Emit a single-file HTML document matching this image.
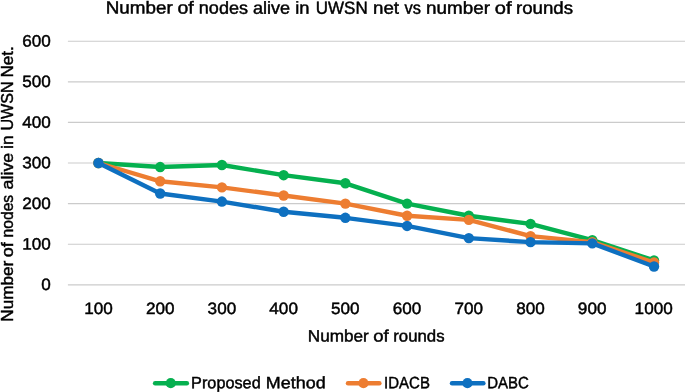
<!DOCTYPE html>
<html lang="en"><head><meta charset="utf-8"><title>Number of nodes alive in UWSN net vs number of rounds</title>
<style>
html,body{margin:0;padding:0;background:#fff;}
body{width:685px;height:392px;overflow:hidden;}
svg{display:block;}
text{font-family:"Liberation Sans", sans-serif;fill:#000;stroke:#000;stroke-width:0.45px;font-kerning:none;}
</style></head><body>
<svg width="685" height="392" viewBox="0 0 685 392">
<rect width="685" height="392" fill="#fff"/>
<line x1="67.9" x2="685.0" y1="284.80" y2="284.80" stroke="#cbcbcb" stroke-width="1.15"/>
<line x1="67.9" x2="685.0" y1="244.20" y2="244.20" stroke="#cbcbcb" stroke-width="1.15"/>
<line x1="67.9" x2="685.0" y1="203.60" y2="203.60" stroke="#cbcbcb" stroke-width="1.15"/>
<line x1="67.9" x2="685.0" y1="163.00" y2="163.00" stroke="#cbcbcb" stroke-width="1.15"/>
<line x1="67.9" x2="685.0" y1="122.40" y2="122.40" stroke="#cbcbcb" stroke-width="1.15"/>
<line x1="67.9" x2="685.0" y1="81.80" y2="81.80" stroke="#cbcbcb" stroke-width="1.15"/>
<line x1="67.9" x2="685.0" y1="41.20" y2="41.20" stroke="#cbcbcb" stroke-width="1.15"/>
<polyline points="98.45,163.00 160.18,167.06 221.91,165.03 283.64,175.18 345.37,183.30 407.10,203.60 468.83,215.78 530.56,223.90 592.29,240.14 654.02,260.44" fill="none" stroke="#05b04f" stroke-width="4.4" stroke-linejoin="round" stroke-linecap="round"/>
<circle cx="98.45" cy="163.00" r="5.2" fill="#05b04f"/>
<circle cx="160.18" cy="167.06" r="5.2" fill="#05b04f"/>
<circle cx="221.91" cy="165.03" r="5.2" fill="#05b04f"/>
<circle cx="283.64" cy="175.18" r="5.2" fill="#05b04f"/>
<circle cx="345.37" cy="183.30" r="5.2" fill="#05b04f"/>
<circle cx="407.10" cy="203.60" r="5.2" fill="#05b04f"/>
<circle cx="468.83" cy="215.78" r="5.2" fill="#05b04f"/>
<circle cx="530.56" cy="223.90" r="5.2" fill="#05b04f"/>
<circle cx="592.29" cy="240.14" r="5.2" fill="#05b04f"/>
<circle cx="654.02" cy="260.44" r="5.2" fill="#05b04f"/>
<polyline points="98.45,163.00 160.18,181.27 221.91,187.36 283.64,195.48 345.37,203.60 407.10,215.78 468.83,219.84 530.56,236.08 592.29,242.17 654.02,262.47" fill="none" stroke="#ed7d31" stroke-width="4.4" stroke-linejoin="round" stroke-linecap="round"/>
<circle cx="98.45" cy="163.00" r="5.2" fill="#ed7d31"/>
<circle cx="160.18" cy="181.27" r="5.2" fill="#ed7d31"/>
<circle cx="221.91" cy="187.36" r="5.2" fill="#ed7d31"/>
<circle cx="283.64" cy="195.48" r="5.2" fill="#ed7d31"/>
<circle cx="345.37" cy="203.60" r="5.2" fill="#ed7d31"/>
<circle cx="407.10" cy="215.78" r="5.2" fill="#ed7d31"/>
<circle cx="468.83" cy="219.84" r="5.2" fill="#ed7d31"/>
<circle cx="530.56" cy="236.08" r="5.2" fill="#ed7d31"/>
<circle cx="592.29" cy="242.17" r="5.2" fill="#ed7d31"/>
<circle cx="654.02" cy="262.47" r="5.2" fill="#ed7d31"/>
<polyline points="98.45,163.00 160.18,193.45 221.91,201.57 283.64,211.72 345.37,217.81 407.10,225.93 468.83,238.11 530.56,242.17 592.29,243.39 654.02,266.53" fill="none" stroke="#0e70c0" stroke-width="4.4" stroke-linejoin="round" stroke-linecap="round"/>
<circle cx="98.45" cy="163.00" r="5.2" fill="#0e70c0"/>
<circle cx="160.18" cy="193.45" r="5.2" fill="#0e70c0"/>
<circle cx="221.91" cy="201.57" r="5.2" fill="#0e70c0"/>
<circle cx="283.64" cy="211.72" r="5.2" fill="#0e70c0"/>
<circle cx="345.37" cy="217.81" r="5.2" fill="#0e70c0"/>
<circle cx="407.10" cy="225.93" r="5.2" fill="#0e70c0"/>
<circle cx="468.83" cy="238.11" r="5.2" fill="#0e70c0"/>
<circle cx="530.56" cy="242.17" r="5.2" fill="#0e70c0"/>
<circle cx="592.29" cy="243.39" r="5.2" fill="#0e70c0"/>
<circle cx="654.02" cy="266.53" r="5.2" fill="#0e70c0"/>
<text y="13.7" font-size="17.4" transform="matrix(1 0.0006 0 1 0 -0.2039)"><tspan x="105.68" textLength="67.01" lengthAdjust="spacingAndGlyphs">Number</tspan> <tspan x="177.51" textLength="16.24" lengthAdjust="spacingAndGlyphs">of</tspan> <tspan x="198.83" textLength="49.20" lengthAdjust="spacingAndGlyphs">nodes</tspan> <tspan x="252.96" textLength="37.22" lengthAdjust="spacingAndGlyphs">alive</tspan> <tspan x="295.20" textLength="14.27" lengthAdjust="spacingAndGlyphs">in</tspan> <tspan x="315.82" textLength="51.84" lengthAdjust="spacingAndGlyphs">UWSN</tspan> <tspan x="372.98" textLength="26.03" lengthAdjust="spacingAndGlyphs">net</tspan> <tspan x="404.47" textLength="16.40" lengthAdjust="spacingAndGlyphs">vs</tspan> <tspan x="426.07" textLength="63.91" lengthAdjust="spacingAndGlyphs">number</tspan> <tspan x="494.88" textLength="16.76" lengthAdjust="spacingAndGlyphs">of</tspan> <tspan x="515.99" textLength="57.06" lengthAdjust="spacingAndGlyphs">rounds</tspan></text>
<text y="290.10" font-size="16.4" transform="matrix(1 0.0006 0 1 0 -0.0276)"><tspan x="41.31" textLength="9.53" lengthAdjust="spacingAndGlyphs">0</tspan></text>
<text y="249.50" font-size="16.4" transform="matrix(1 0.0006 0 1 0 -0.0219)"><tspan x="22.25" textLength="28.59" lengthAdjust="spacingAndGlyphs">100</tspan></text>
<text y="208.90" font-size="16.4" transform="matrix(1 0.0006 0 1 0 -0.0219)"><tspan x="22.25" textLength="28.59" lengthAdjust="spacingAndGlyphs">200</tspan></text>
<text y="168.30" font-size="16.4" transform="matrix(1 0.0006 0 1 0 -0.0219)"><tspan x="22.25" textLength="28.59" lengthAdjust="spacingAndGlyphs">300</tspan></text>
<text y="127.70" font-size="16.4" transform="matrix(1 0.0006 0 1 0 -0.0219)"><tspan x="22.25" textLength="28.59" lengthAdjust="spacingAndGlyphs">400</tspan></text>
<text y="87.10" font-size="16.4" transform="matrix(1 0.0006 0 1 0 -0.0219)"><tspan x="22.25" textLength="28.59" lengthAdjust="spacingAndGlyphs">500</tspan></text>
<text y="46.50" font-size="16.4" transform="matrix(1 0.0006 0 1 0 -0.0219)"><tspan x="22.25" textLength="28.59" lengthAdjust="spacingAndGlyphs">600</tspan></text>
<text y="313.9" font-size="16.4" transform="matrix(1 0.0006 0 1 0 -0.0591)"><tspan x="84.20" textLength="28.59" lengthAdjust="spacingAndGlyphs">100</tspan></text>
<text y="313.9" font-size="16.4" transform="matrix(1 0.0006 0 1 0 -0.0961)"><tspan x="145.91" textLength="28.59" lengthAdjust="spacingAndGlyphs">200</tspan></text>
<text y="313.9" font-size="16.4" transform="matrix(1 0.0006 0 1 0 -0.1332)"><tspan x="207.62" textLength="28.59" lengthAdjust="spacingAndGlyphs">300</tspan></text>
<text y="313.9" font-size="16.4" transform="matrix(1 0.0006 0 1 0 -0.1702)"><tspan x="269.33" textLength="28.59" lengthAdjust="spacingAndGlyphs">400</tspan></text>
<text y="313.9" font-size="16.4" transform="matrix(1 0.0006 0 1 0 -0.2072)"><tspan x="331.04" textLength="28.59" lengthAdjust="spacingAndGlyphs">500</tspan></text>
<text y="313.9" font-size="16.4" transform="matrix(1 0.0006 0 1 0 -0.2442)"><tspan x="392.75" textLength="28.59" lengthAdjust="spacingAndGlyphs">600</tspan></text>
<text y="313.9" font-size="16.4" transform="matrix(1 0.0006 0 1 0 -0.2813)"><tspan x="454.46" textLength="28.59" lengthAdjust="spacingAndGlyphs">700</tspan></text>
<text y="313.9" font-size="16.4" transform="matrix(1 0.0006 0 1 0 -0.3183)"><tspan x="516.17" textLength="28.59" lengthAdjust="spacingAndGlyphs">800</tspan></text>
<text y="313.9" font-size="16.4" transform="matrix(1 0.0006 0 1 0 -0.3553)"><tspan x="577.88" textLength="28.59" lengthAdjust="spacingAndGlyphs">900</tspan></text>
<text y="313.9" font-size="16.4" transform="matrix(1 0.0006 0 1 0 -0.3922)"><tspan x="634.62" textLength="38.12" lengthAdjust="spacingAndGlyphs">1000</tspan></text>
<text y="341.45" font-size="16.5" transform="matrix(1 0.0006 0 1 0 -0.2259)"><tspan x="307.78" textLength="60.98" lengthAdjust="spacingAndGlyphs">Number</tspan> <tspan x="373.24" textLength="15.50" lengthAdjust="spacingAndGlyphs">of</tspan> <tspan x="393.21" textLength="51.37" lengthAdjust="spacingAndGlyphs">rounds</tspan></text>
<text y="0" font-size="16.5" transform="translate(12.5,0) rotate(-90)"><tspan x="-321.68" textLength="60.84" lengthAdjust="spacingAndGlyphs">Number</tspan> <tspan x="-257.33" textLength="14.98" lengthAdjust="spacingAndGlyphs">of</tspan> <tspan x="-237.41" textLength="42.55" lengthAdjust="spacingAndGlyphs">nodes</tspan> <tspan x="-189.43" textLength="36.60" lengthAdjust="spacingAndGlyphs">alive</tspan> <tspan x="-148.93" textLength="13.42" lengthAdjust="spacingAndGlyphs">in</tspan> <tspan x="-130.52" textLength="49.21" lengthAdjust="spacingAndGlyphs">UWSN</tspan> <tspan x="-77.58" textLength="31.31" lengthAdjust="spacingAndGlyphs">Net.</tspan></text>
<line x1="155.10" x2="186.90" y1="383.3" y2="383.3" stroke="#05b04f" stroke-width="4.4" stroke-linecap="round"/><circle cx="170.75" cy="383.2" r="5.1" fill="#05b04f"/>
<text y="388.3" font-size="16.5" transform="matrix(1 0.0006 0 1 0 -0.1551)"><tspan x="191.09" textLength="69.63" lengthAdjust="spacingAndGlyphs">Proposed</tspan> <tspan x="265.85" textLength="59.78" lengthAdjust="spacingAndGlyphs">Method</tspan></text>
<line x1="348.00" x2="379.40" y1="383.3" y2="383.3" stroke="#ed7d31" stroke-width="4.4" stroke-linecap="round"/><circle cx="363.45" cy="383.2" r="5.1" fill="#ed7d31"/>
<text y="388.3" font-size="16.5" transform="matrix(1 0.0006 0 1 0 -0.2444)"><tspan x="384.04" textLength="45.88" lengthAdjust="spacingAndGlyphs">IDACB</tspan></text>
<line x1="452.00" x2="483.40" y1="383.3" y2="383.3" stroke="#0e70c0" stroke-width="4.4" stroke-linecap="round"/><circle cx="467.45" cy="383.2" r="5.1" fill="#0e70c0"/>
<text y="388.3" font-size="16.5" transform="matrix(1 0.0006 0 1 0 -0.3050)"><tspan x="487.19" textLength="41.70" lengthAdjust="spacingAndGlyphs">DABC</tspan></text>
</svg>
</body></html>
